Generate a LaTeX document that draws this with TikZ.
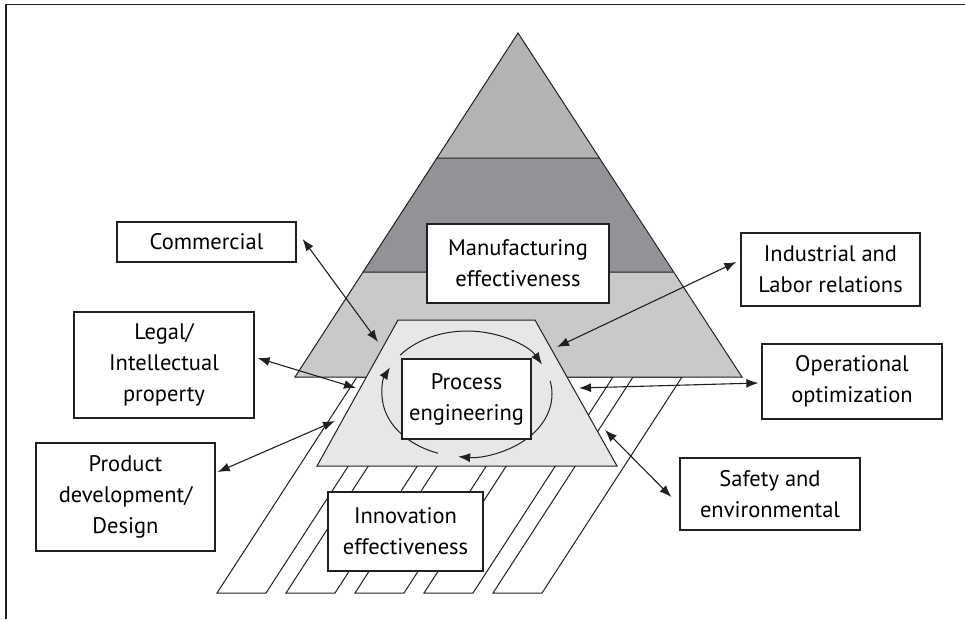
\documentclass[tikz,border=0pt]{standalone}
\usepackage{fontspec}
\setmainfont{PT Sans}
\usepackage{xcolor}
\usepackage{tikz}
\usetikzlibrary{arrows.meta, positioning}

\definecolor{inkline}{HTML}{231F20}
\definecolor{bandtop}{HTML}{B2B3B5}
\definecolor{bandmid}{HTML}{929397}
\definecolor{bandlow}{HTML}{C8C9CB}
\definecolor{trapfill}{HTML}{E6E7E8}

\begin{document}
\begin{tikzpicture}[x=1pt, y=-1pt, >={Latex[length=12pt,width=9pt]}, font=\fontsize{22.5}{31}\selectfont]
\tikzstyle{box} = [draw=inkline, line width=1.3pt, fill=white, align=center, inner sep=0pt]
\tikzstyle{link} = [<->, draw=inkline, line width=1.1pt]
\tikzstyle{stripe} = [draw=inkline, fill=white, line width=1pt]

\useasboundingbox (0,0) rectangle (965,619);
\draw[inkline, line width=1.6pt] (6,619) -- (6,4.5) -- (965,4.5);

% innovation stripes
\foreach \i in {0,...,4}
	\draw[stripe] ({217+69*\i},593) -- ({266+69*\i},593) -- ({406+69*\i},377) -- ({357+69*\i},377) -- cycle;

% pyramid
\fill[bandlow] (295,377) -- (363,272) -- (673,272) -- (742,377) -- cycle;
\fill[bandmid] (363,272) -- (437,158) -- (599,158) -- (673,272) -- cycle;
\fill[bandtop] (437,158) -- (518,33) -- (599,158) -- cycle;
\draw[inkline, line width=1pt] (295,377) -- (518,33) -- (742,377) -- cycle
	(437,158) -- (599,158) (363,272) -- (673,272);

% process trapezoid
\draw[inkline, fill=trapfill, line width=1pt] (398,320) -- (535,320) -- (617,466) -- (317,466) -- cycle;

% process cycle
\coordinate (ctr) at (467,394);
\draw[->, inkline, line width=1pt] ([shift={(-142:85 and 63)}]ctr) arc[start angle=-142, end angle=-28, x radius=85, y radius=63];
\draw[->, inkline, line width=1pt] ([shift={(-12:85 and 63)}]ctr) arc[start angle=-12, end angle=96, x radius=85, y radius=63];
\draw[->, inkline, line width=1pt] ([shift={(110:85 and 63)}]ctr) arc[start angle=110, end angle=205, x radius=85, y radius=63];

\node[box, minimum width=182, minimum height=79] at (518,263.5)   (manufacturing) {Manufacturing\\effectiveness};
\node[box, minimum width=129, minimum height=80] at (466.5,399)   (process)       {Process\\engineering};
\node[box, minimum width=155, minimum height=79] at (405.5,531.5) (innovation)    {Innovation\\effectiveness};
\node[box, minimum width=179, minimum height=40] at (206.5,242)   (commercial)    {Commercial};
\node[box, minimum width=180, minimum height=106] at (164,365)    (legal)         {Legal/\\Intellectual\\property};
\node[box, minimum width=179, minimum height=108] at (125.5,497)  (product)       {Product\\development/\\Design};
\node[box, minimum width=179, minimum height=73] at (830.5,269.5) (industrial)    {Industrial and\\Labor relations};
\node[box, minimum width=180, minimum height=75] at (852,381.5)   (operational)   {Operational\\optimization};
\node[box, minimum width=180, minimum height=72] at (770,494)      (safety)        {Safety and\\environmental};

% arrow ends at the trapezoid
\coordinate (tcom) at (378,342);
\coordinate (tleg) at (356,388);
\coordinate (tpro) at (335,421);
\coordinate (tind) at (557,347);
\coordinate (tope) at (579,388);
\coordinate (tsaf) at (605,430);

\draw[link] ([shift={(6,-3)}]commercial.east)   -- (tcom);
\draw[link] ([shift={(3,-7)}]legal.east)        -- (tleg);
\draw[link] ([shift={(2,-25)}]product.east)     -- (tpro);
\draw[link] ([shift={(-4,-7.5)}]industrial.west) -- (tind);
\draw[link] ([shift={(-3,1.5)}]operational.west) -- (tope);
\draw[link] ([shift={(-8,3)}]safety.west)       -- (tsaf);
\end{tikzpicture}
\end{document}
